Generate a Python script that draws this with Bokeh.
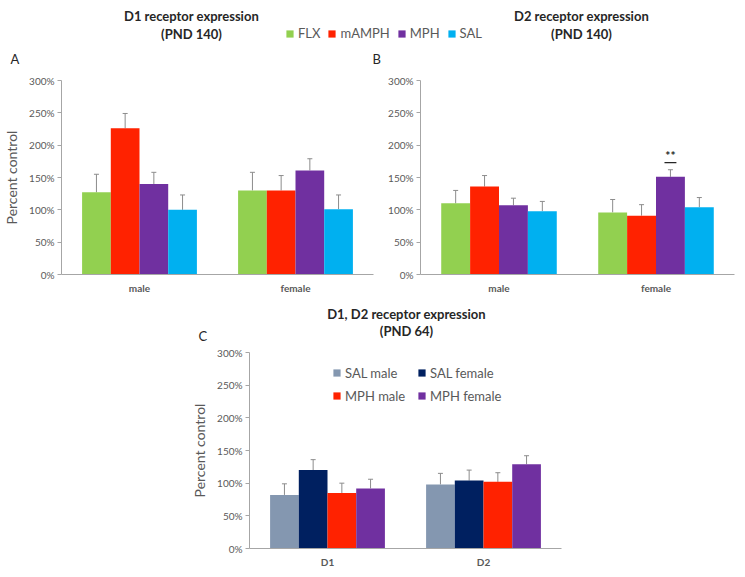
from bokeh.plotting import figure
from bokeh.models import (ColumnDataSource, Range1d, FactorRange, FixedTicker, PrintfTickFormatter,
                          Whisker, TeeHead, Legend, LegendItem, Label, Spacer)
from bokeh.transform import dodge
from bokeh.layouts import column, row
from bokeh.embed import file_html
from bokeh.resources import INLINE
from bokeh.core.properties import value

# ---------------- data ----------------
sexes = ["male", "female"]
treatments = ["FLX", "mAMPH", "MPH", "SAL"]
treat_colors = ["#92D050", "#FF2200", "#7030A0", "#00B0F0"]

# Panel A: D1 receptor expression (PND 140), percent control
d1_flx = [127, 130]
d1_flx_err = [155, 158]
d1_mamph = [226, 130]
d1_mamph_err = [249, 153]
d1_mph = [140, 161]
d1_mph_err = [158, 179]
d1_sal = [100, 101]
d1_sal_err = [123, 123]

# Panel B: D2 receptor expression (PND 140)
d2_flx = [110, 96]
d2_flx_err = [130, 116]
d2_mamph = [136, 91]
d2_mamph_err = [153, 108]
d2_mph = [107, 151]
d2_mph_err = [118, 162]
d2_sal = [98, 104]
d2_sal_err = [113, 119]

# significance mark in panel B
sig_cat = ["female"]
sig_series = 2            # index of MPH
sig_text = ["**"]
sig_line_y = [173]
sig_text_y = [184]

# Panel C: D1, D2 receptor expression (PND 64)
receptors = ["D1", "D2"]
groups_c = ["SAL male", "SAL female", "MPH male", "MPH female"]
group_colors = ["#8497B0", "#002060", "#FF2200", "#7030A0"]
c_sal_m = [82, 98]
c_sal_m_err = [99, 115]
c_sal_f = [120, 104]
c_sal_f_err = [136, 120]
c_mph_m = [85, 102]
c_mph_m_err = [100, 116]
c_mph_f = [92, 129]
c_mph_f_err = [106, 142]

y_ticks = [0, 50, 100, 150, 200, 250, 300]

FONT = "Lato"
GRAY = "#595959"
AXIS = "#a6a6a6"
DARK = "#262626"
BAR_W = 0.184
OFFSETS = [-1.5 * BAR_W, -0.5 * BAR_W, 0.5 * BAR_W, 1.5 * BAR_W]


def make_panel(cats, vals, errs, colors, width, height, bl, br, bt, bb, ylabel):
    p = figure(x_range=cats, y_range=Range1d(0, 300), width=width, height=height,
               output_backend="svg", toolbar_location=None,
               min_border_left=bl, min_border_right=br, min_border_top=bt,
               min_border_bottom=bb)
    p.x_range.range_padding = 0
    p.outline_line_color = None
    p.xgrid.grid_line_color = None
    p.ygrid.grid_line_color = None

    yax = p.yaxis[0]
    yax.ticker = FixedTicker(ticks=y_ticks)
    yax.formatter = PrintfTickFormatter(format="%d%%")
    yax.axis_line_color = AXIS
    yax.major_tick_line_color = AXIS
    yax.major_tick_out = 4
    yax.major_tick_in = 0
    yax.minor_tick_line_color = None
    yax.major_label_text_font = FONT
    yax.major_label_text_font_size = "10px"
    yax.major_label_text_color = GRAY
    yax.major_label_standoff = 3
    if ylabel:
        yax.axis_label = ylabel
        yax.axis_label_text_font = FONT
        yax.axis_label_text_font_size = "14px"
        yax.axis_label_text_font_style = "normal"
        yax.axis_label_text_color = GRAY
        yax.axis_label_standoff = 6

    xax = p.xaxis[0]
    xax.axis_line_color = AXIS
    xax.major_tick_line_color = None
    xax.major_tick_out = 0
    xax.major_tick_in = 0
    xax.minor_tick_line_color = None
    xax.major_label_text_font = FONT
    xax.major_label_text_font_size = "10px"
    xax.major_label_text_font_style = "bold"
    xax.major_label_text_color = GRAY
    xax.major_label_standoff = 7

    renderers = []
    for i, (v, e, c) in enumerate(zip(vals, errs, colors)):
        src = ColumnDataSource(dict(x=cats, top=v, upper=e))
        r = p.vbar(x=dodge("x", OFFSETS[i], range=p.x_range), top="top", width=BAR_W,
                   source=src, fill_color=c, line_color=None)
        renderers.append(r)
        w = Whisker(base=dodge("x", OFFSETS[i], range=p.x_range), upper="upper", lower="top",
                    dimension="height", source=src, line_color="#8c8c8c", line_width=1,
                    upper_head=TeeHead(size=5, line_color="#8c8c8c", line_width=1),
                    lower_head=None)
        p.add_layout(w)
    return p, renderers


def make_header(width, height, x_range=None):
    h = figure(width=width, height=height, output_backend="svg", toolbar_location=None,
               x_range=x_range if x_range is not None else Range1d(0, 1), y_range=Range1d(0, 1),
               x_axis_type=None, y_axis_type=None,
               min_border_left=0, min_border_right=0, min_border_top=0, min_border_bottom=0)
    h.outline_line_color = None
    h.xgrid.grid_line_color = None
    h.ygrid.grid_line_color = None
    return h


def add_text(p, x, y, text, size="13px", style="normal", color=DARK, align="center"):
    p.add_layout(Label(x=x, y=y, x_units="screen", y_units="screen", text=text,
                       text_font=FONT, text_font_size=size, text_font_style=style,
                       text_color=color, text_align=align, text_baseline="middle"))


def make_legend(items, loc, ncols=None, label_height=13, label_width=20, spacing=7):
    kw = dict(items=items, location=loc, orientation="horizontal",
              glyph_width=9, glyph_height=9, label_standoff=4, spacing=spacing,
              padding=0, margin=0, border_line_color=None, background_fill_alpha=0,
              label_text_font=FONT, label_text_font_size="13px",
              label_text_color=GRAY, label_height=label_height, label_width=label_width)
    if ncols:
        kw["ncols"] = ncols
        kw["orientation"] = "vertical"
    return Legend(**kw)


# ---------------- header (titles, panel letters, shared legend) ----------------
head = make_header(745, 72, x_range=FactorRange(*treatments))
add_text(head, 191, 57, "D1 receptor expression", style="bold")
add_text(head, 191, 39, "(PND 140)", style="bold")
add_text(head, 581, 57, "D2 receptor expression", style="bold")
add_text(head, 581, 39, "(PND 140)", style="bold")
add_text(head, 10, 14, "A", align="left")
add_text(head, 372, 14, "B", align="left")
leg_items = []
for t, c in zip(treatments, treat_colors):
    # zero-height legend proxy (not visible in the header itself)
    proxy = ColumnDataSource(dict(x=[t], top=[0]))
    r = head.vbar(x="x", top="top", bottom=0, width=0.1, source=proxy,
                  fill_color=c, line_color=None)
    leg_items.append(LegendItem(label=t, renderers=[r]))
head.add_layout(make_legend(leg_items, (285, 31)))

# ---------------- Panel A ----------------
pA, rA = make_panel(sexes, [d1_flx, d1_mamph, d1_mph, d1_sal],
                    [d1_flx_err, d1_mamph_err, d1_mph_err, d1_sal_err],
                    treat_colors, 385, 228, 60, 12, 8, 26, "Percent control")

# ---------------- Panel B ----------------
pB, rB = make_panel(sexes, [d2_flx, d2_mamph, d2_mph, d2_sal],
                    [d2_flx_err, d2_mamph_err, d2_mph_err, d2_sal_err],
                    treat_colors, 360, 228, 35, 11, 8, 26, None)
sig_src = ColumnDataSource(dict(x=sig_cat, ly=sig_line_y, ty=sig_text_y, t=sig_text))
off = OFFSETS[sig_series]
pB.segment(x0=dodge("x", off - 0.038, range=pB.x_range), x1=dodge("x", off + 0.038, range=pB.x_range),
           y0="ly", y1="ly", source=sig_src, line_color=DARK, line_width=1.2)
pB.text(x=dodge("x", off, range=pB.x_range), y="ty", text="t", source=sig_src,
        text_font=value(FONT), text_font_size="12px", text_font_style="bold",
        text_color=DARK, text_align="center", text_baseline="middle")

# ---------------- header C ----------------
headC = make_header(745, 45)
add_text(headC, 406, 32, "D1, D2 receptor expression", style="bold")
add_text(headC, 406, 15, "(PND 64)", style="bold")
add_text(headC, 198, 10, "C", align="left")

# ---------------- Panel C ----------------
pC, rC = make_panel(receptors, [c_sal_m, c_sal_f, c_mph_m, c_mph_f],
                    [c_sal_m_err, c_sal_f_err, c_mph_m_err, c_mph_f_err],
                    group_colors, 385, 232, 60, 12, 7, 29, "Percent control")
order = [0, 2, 1, 3]   # legend fills column-wise
pC.add_layout(make_legend([LegendItem(label=groups_c[i], renderers=[rC[i]]) for i in order],
                          (83, 141), ncols=2, label_height=23, label_width=72, spacing=0))

layout = column(head, row(pA, pB), headC, row(Spacer(width=188, height=232), pC))

open("out.html", "w").write(file_html(layout, INLINE))
